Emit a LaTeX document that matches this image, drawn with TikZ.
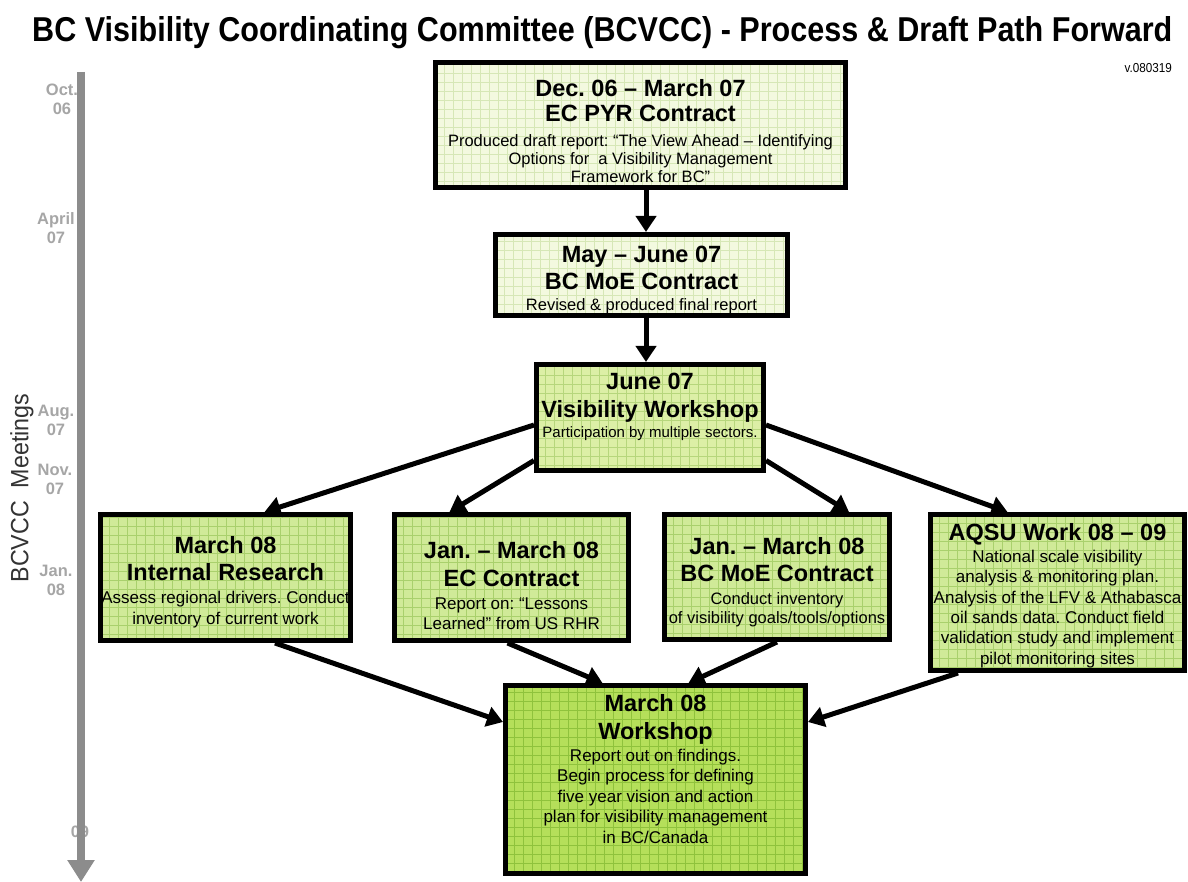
\documentclass[tikz,border=0pt]{standalone}
\usepackage{fontspec}
\setmainfont{Liberation Sans}
\usetikzlibrary{arrows.meta}
\definecolor{paleF}{HTML}{F3F9DF}
\definecolor{paleG}{HTML}{D6E7B6}
\definecolor{midF}{HTML}{DCEFA6}
\definecolor{midG}{HTML}{B6D67C}
\definecolor{rowF}{HTML}{D0EA98}
\definecolor{rowG}{HTML}{A9D06C}
\definecolor{botF}{HTML}{B5DF5A}
\definecolor{botG}{HTML}{8FC23C}
\definecolor{tlline}{HTML}{8C8C8C}
\definecolor{tltext}{HTML}{A6A6A6}
\definecolor{meetc}{HTML}{333333}
\newcommand\bxt[4]{\parbox[c][#2][t]{#1}{\centering\vspace*{#3}#4}}
\newcommand\hdk[1]{\fontsize{23.5}{#1}\bfseries}
\newcommand\bdk[2]{\fontsize{#1}{#2}\selectfont}
\frenchspacing
\begin{document}
\begin{tikzpicture}[x=1pt,y=-1pt]
\tikzset{
  boxstyle/.style={draw=black, line width=5pt, inner sep=0pt, anchor=north west},
  gridded/.style 2 args={fill=#1, path picture={\draw[draw=#2, line width=0.7pt] (path picture bounding box.south west) grid[step=9pt] (path picture bounding box.north east);}},
  arr/.style={draw=black, line width=5pt, -{Triangle[length=16pt,width=20pt]}},
  tl/.style={font=\fontsize{16.5}{19}\selectfont\bfseries, text=tltext, align=center, inner sep=0pt},
}
\useasboundingbox (0,0) rectangle (1188,882);
\fill[white] (0,0) rectangle (1188,882);

% title
\node[anchor=base west, inner sep=0pt] (title) at (32,42) {\resizebox{1140pt}{25pt}{\bfseries BC Visibility Coordinating Committee (BCVCC) - Process \& Draft Path Forward}};
\node[anchor=base east, inner sep=0pt, font=\fontsize{13}{13}\selectfont] (ver) at (1172,73) {\scalebox{0.9}[1]{v.080319}};

% timeline labels
\node[tl] (toct) at (62,99) {Oct.\\06};
\node[tl] (tapr) at (56,228) {April\\07};
\node[tl] (taug) at (56,420) {Aug.\\07};
\node[tl] (tnov) at (55,479) {Nov.\\07};
\node[tl] (tjan) at (56,580) {Jan.\\08};
\node[tl] (t09) at (80,832) {09};
\node[rotate=90, inner sep=0pt, text=meetc, font=\fontsize{25}{25}\selectfont] (meet) at (22,488) {\scalebox{0.93}[1]{BCVCC\ \ Meetings}};
\coordinate (tltop) at (81,72);
\coordinate (tlbot) at (81,882);
\draw[draw=tlline, line width=8pt, -{Triangle[length=22pt,width=26pt]}] (tltop) -- (tlbot);

% boxes
\node[boxstyle, gridded={paleF}{paleG}] (b1) at (433,60) {\bxt{410pt}{125pt}{16.7pt}{%
{\hdk{25}Dec. 06 – March 07\par}{\hdk{25}EC PYR Contract\par}\vspace{7pt}%
{\bdk{16.5}{18}Produced draft report: “The View Ahead – Identifying\\Options for\ \ a Visibility Management\\Framework for BC”\par}}};

\node[boxstyle, gridded={paleF}{paleG}] (b2) at (493,232) {\bxt{292pt}{81pt}{11.7pt}{%
{\hdk{27}May – June 07\par}{\hdk{27}BC MoE Contract\par}\vspace{3pt}%
{\bdk{16.5}{18}Revised \& produced final report\par}}};

\node[boxstyle, gridded={midF}{midG}] (b3) at (534,362) {\bxt{227pt}{106pt}{8.7pt}{%
{\hdk{28}June 07\par}{\hdk{28}Visibility Workshop\par}\vspace{3pt}%
{\bdk{15}{17}Participation by multiple sectors.\par}}};

\node[boxstyle, gridded={rowF}{rowG}] (ra) at (98,512) {\bxt{250pt}{126pt}{21.7pt}{%
{\hdk{27}March 08\par}{\hdk{27}Internal Research\par}\vspace{2pt}%
{\bdk{17}{21}Assess regional drivers. Conduct\\inventory of current work\par}}};

\node[boxstyle, gridded={rowF}{rowG}] (rb) at (392,512) {\bxt{234pt}{126pt}{26.7pt}{%
{\hdk{28}Jan. – March 08\par}{\hdk{28}EC Contract\par}\vspace{3pt}%
{\bdk{17}{20}Report on: “Lessons\\Learned” from US RHR\par}}};

\node[boxstyle, gridded={rowF}{rowG}] (rc) at (662,512) {\bxt{225pt}{125pt}{22.7pt}{%
{\hdk{27}Jan. – March 08\par}{\hdk{27}BC MoE Contract\par}\vspace{4pt}%
{\bdk{16.5}{19}Conduct inventory\\of visibility goals/tools/options\par}}};

\node[boxstyle, gridded={rowF}{rowG}] (rd) at (928,512) {\bxt{254pt}{156pt}{8.7pt}{%
{\hdk{25}AQSU Work 08 – 09\par}\vspace{1.6pt}%
{\bdk{17}{20.4}National scale visibility\\analysis \& monitoring plan.\\Analysis of the LFV \& Athabasca\\oil sands data. Conduct field\\validation study and implement\\pilot monitoring sites\par}}};

\node[boxstyle, gridded={botF}{botG}] (bot) at (503,683) {\bxt{300pt}{188pt}{8.7pt}{%
{\hdk{28}March 08\par}{\hdk{28}Workshop\par}\vspace{1.5pt}%
{\bdk{17}{20.5}Report out on findings.\\Begin process for defining\\five year vision and action\\plan for visibility management\\in BC/Canada\par}}};

% connectors
\draw[arr] ([xshift=5.5pt]b1.south) -- ([xshift=4.5pt]b2.north);
\draw[arr] ([xshift=4.5pt]b2.south) -- ([xshift=-4pt]b3.north);
\draw[arr] ([yshift=-7.5pt]b3.west) -- ([xshift=39pt]ra.north);
\draw[arr] ([yshift=-43pt]b3.west) -- ([xshift=-62pt]rb.north);
\draw[arr] ([yshift=-43pt]b3.east) -- ([xshift=72pt]rc.north);
\draw[arr] ([yshift=-7.5pt]b3.east) -- ([xshift=-50pt]rd.north);
\draw[arr] ([xshift=49.5pt]ra.south) -- ([yshift=57.5pt]bot.west);
\draw[arr] ([xshift=-4pt]rb.south) -- ([xshift=-53pt]bot.north);
\draw[arr] ([xshift=0pt]rc.south) -- ([xshift=33pt]bot.north);
\draw[arr] ([xshift=-99.5pt]rd.south) -- ([yshift=57.5pt]bot.east);
\end{tikzpicture}
\end{document}
